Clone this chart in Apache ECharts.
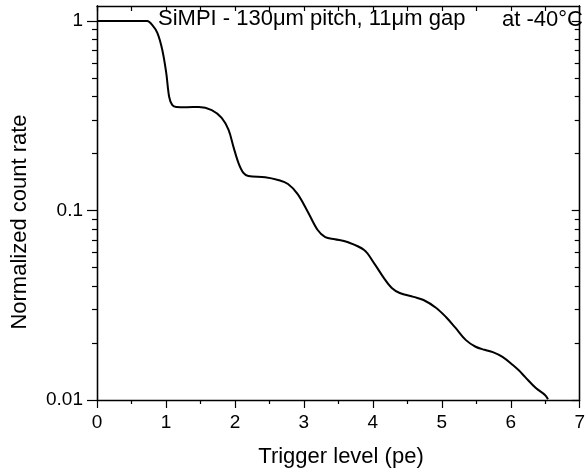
<!DOCTYPE html>
<html>
<head>
<meta charset="utf-8">
<script src="https://cdn.jsdelivr.net/npm/echarts@6/dist/echarts.min.js"></script>
<style>
html,body{margin:0;padding:0;background:#fff;}
#chart{width:588px;height:473px;}
</style>
</head>
<body>
<div id="chart"></div>
<script>
var triggerLevel = [0, 0.2, 0.4, 0.6, 0.73, 0.80, 0.875, 0.947, 1.004, 1.047, 1.09, 1.15, 1.3, 1.478, 1.664, 1.808, 1.908, 1.98, 2.052, 2.123, 2.195, 2.439, 2.626, 2.77, 2.91, 3.06, 3.20, 3.31, 3.45, 3.63, 3.874, 4.017, 4.161, 4.275, 4.39, 4.59, 4.735, 4.92, 5.06, 5.20, 5.35, 5.49, 5.62, 5.74, 5.88, 6.03, 6.12, 6.21, 6.36, 6.50, 6.54];
var countRate = [1, 1, 1, 1, 1.0, 0.953, 0.865, 0.703, 0.532, 0.397, 0.361, 0.352, 0.351, 0.352, 0.339, 0.308, 0.266, 0.216, 0.178, 0.158, 0.152, 0.150, 0.145, 0.138, 0.122, 0.098, 0.0789, 0.0724, 0.0705, 0.0682, 0.0619, 0.0528, 0.0440, 0.0390, 0.0367, 0.0350, 0.0337, 0.0306, 0.0274, 0.0240, 0.0207, 0.0191, 0.0184, 0.0179, 0.0169, 0.0153, 0.0143, 0.0132, 0.0116, 0.0106, 0.0101];
var yMajorTicks = [0.01, 0.1, 1];
var yMinorTicks = [0.02, 0.03, 0.04, 0.05, 0.06, 0.07, 0.08, 0.09, 0.2, 0.3, 0.4, 0.5, 0.6, 0.7, 0.8, 0.9];
var titleText = 'SiMPI - 130\u03bcm pitch, 11\u03bcm gap';
var tempText = 'at -40\u00b0C';
var xName = 'Trigger level (pe)';
var yName = 'Normalized count rate';

var FONT = '"Liberation Sans", Arial, sans-serif';
var yMin = 0.01, yMax = 1.2;
var line = {show: true, lineStyle: {color: '#000', width: 1.3}};

function yAx(pos, inside, ticks, len, labels) {
  return {
    type: 'log', position: pos, min: yMin, max: yMax, logBase: 10,
    axisLine: line,
    axisTick: {show: true, inside: inside, length: len, customValues: ticks, lineStyle: {color: '#000', width: 1.2}},
    axisLabel: labels ? {show: true, customValues: yMajorTicks, color: '#000', fontSize: 19, fontFamily: FONT, margin: 14,
      formatter: function (v) { return String(+v.toPrecision(3)); }} : {show: false},
    splitLine: {show: false}
  };
}

var chart = echarts.init(document.getElementById('chart'), null, {renderer: 'canvas'});
chart.setOption({
  animation: false,
  backgroundColor: '#fff',
  grid: {left: 97, right: 2, top: 6, bottom: 73, containLabel: false},
  xAxis: [
    {type: 'value', position: 'bottom', min: 0, max: 7, interval: 1,
      axisLine: line,
      axisTick: {show: true, length: 8, lineStyle: {color: '#000', width: 1.2}},
      minorTick: {show: true, splitNumber: 2, length: 4, lineStyle: {color: '#000', width: 1.2}},
      axisLabel: {color: '#000', fontSize: 19, fontFamily: FONT, margin: 13},
      splitLine: {show: false}},
    {type: 'value', position: 'top', min: 0, max: 7, interval: 0.5,
      axisLine: line,
      axisTick: {show: true, inside: true, length: 5, lineStyle: {color: '#000', width: 1.2}},
      axisLabel: {show: false}, splitLine: {show: false}}
  ],
  yAxis: [
    yAx('left', false, yMajorTicks, 10, true),
    yAx('left', false, yMinorTicks, 5, false),
    yAx('right', true, yMajorTicks, 8, false),
    yAx('right', true, yMinorTicks, 5, false)
  ],
  series: [{
    type: 'line', xAxisIndex: 0, yAxisIndex: 0,
    data: triggerLevel.map(function (x, i) { return [x, countRate[i]]; }),
    showSymbol: false, smooth: 0.35,
    lineStyle: {color: '#000', width: 2}
  }],
  graphic: [
    {type: 'text', left: 158, top: 8, style: {text: titleText, fill: '#000', font: '22px ' + FONT}},
    {type: 'text', x: 583, y: 20, style: {text: tempText, fill: '#000', font: '22px ' + FONT, align: 'right', verticalAlign: 'middle'}},
    {type: 'text', x: 341, y: 457, style: {text: xName, fill: '#000', font: '22px ' + FONT, align: 'center', verticalAlign: 'middle'}},
    {type: 'text', x: 20, y: 222, rotation: Math.PI / 2, style: {text: yName, fill: '#000', font: '22px ' + FONT, align: 'center', verticalAlign: 'middle'}}
  ]
});
</script>
</body>
</html>
